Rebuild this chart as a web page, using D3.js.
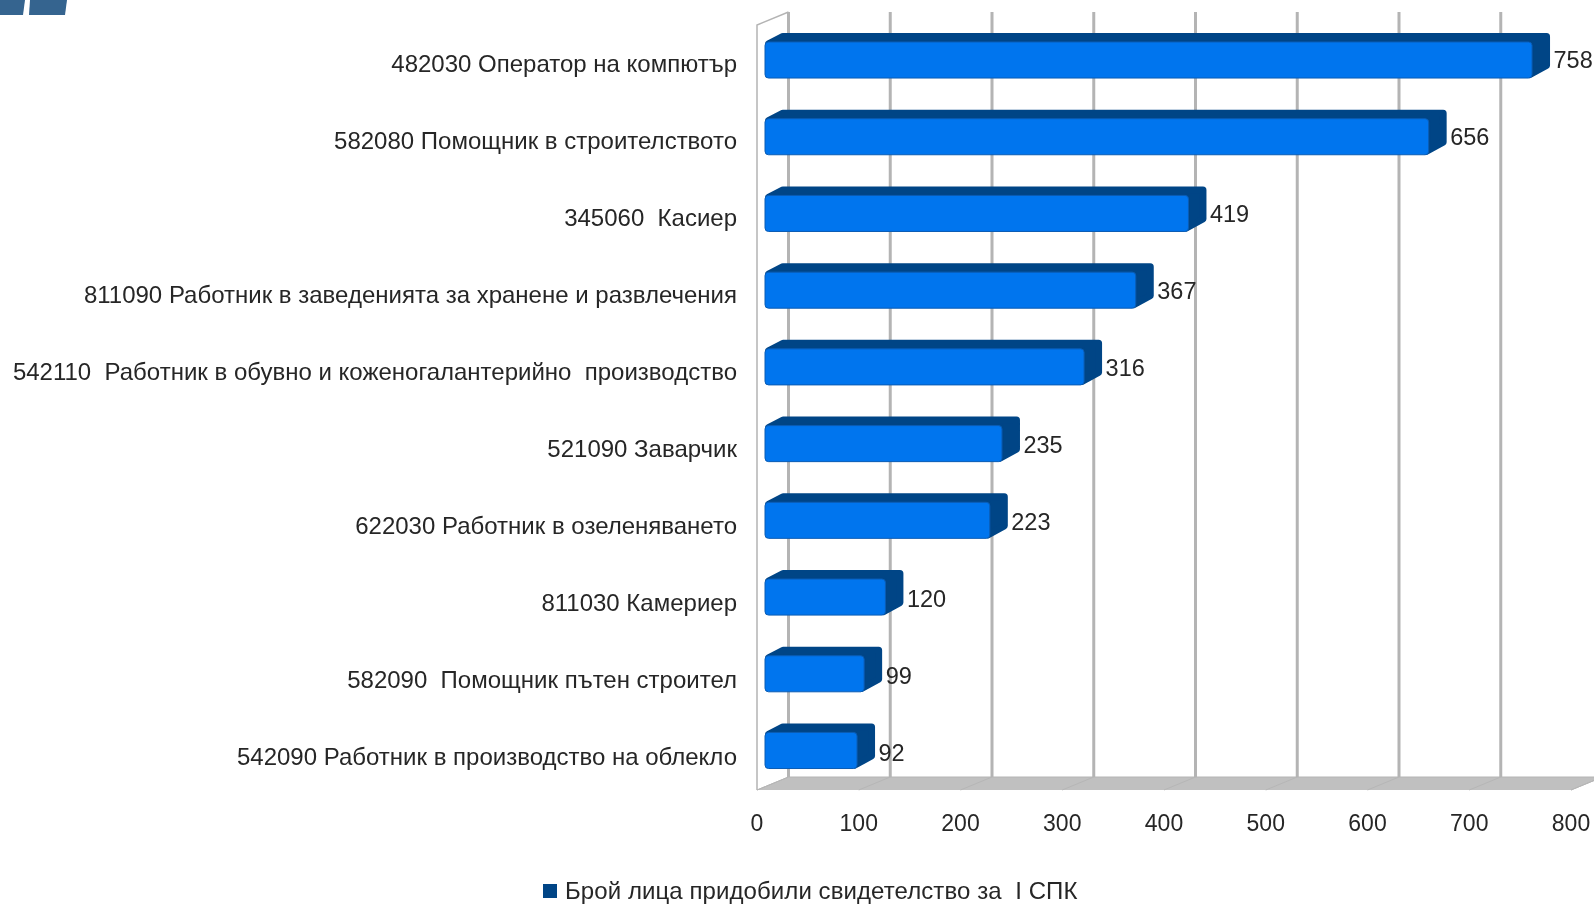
<!DOCTYPE html>
<html><head><meta charset="utf-8">
<script src="https://cdn.jsdelivr.net/npm/d3@7"></script>
<style>
html,body{margin:0;padding:0;background:#fff;overflow:hidden}
svg{display:block;filter:blur(0.6px)}
text{font-family:"Liberation Sans",Arial,sans-serif;white-space:pre;fill:#262626}
</style></head><body><svg id="c" width="1594" height="904"></svg>
<script>
const categories=["482030 Оператор на компютър","582080 Помощник в строителството","345060  Касиер","811090 Работник в заведенията за хранене и развлечения","542110  Работник в обувно и коженогалантерийно  производство","521090 Заварчик","622030 Работник в озеленяването","811030 Камериер","582090  Помощник пътен строител","542090 Работник в производство на облекло"];
const values=[758,656,419,367,316,235,223,120,99,92];
const xTicks=[0,100,200,300,400,500,600,700,800];
const seriesName="Брой лица придобили свидетелство за  I СПК";

const svg=d3.select("#c");
const x=d3.scaleLinear().domain([0,800]).range([757,1571]);
const xBar=d3.scaleLinear().domain([0,800]).range([763.8,1574.6]);
const y=d3.scaleBand().domain(categories).range([21.65,788.85]).paddingInner(0.53).paddingOuter(0.265);
const yLabel=d3.scaleBand().domain(categories).range([21.5,791]);
const wallDx=31.5,wallDy=-13,floorY=790,topY=25;
const barDx=18,barDy=-9,barInset=1.2;
const grey="#b4b4b4";

// logo fragment
svg.append("g").attr("fill","#35648f").selectAll("path")
 .data(["M0 0H25L23 15H0Z","M30 0H67L65 15H29Z"]).join("path").attr("d",d=>d);

// floor
const floor=svg.append("g");
floor.append("path").attr("fill","#c0c0c0").attr("stroke","#b4b4b4")
 .attr("d",d3.line()([[x(0),floorY],[x(0)+wallDx,floorY+wallDy],[x(800)+wallDx,floorY+wallDy],[x(800),floorY]]));
floor.selectAll("line").data(xTicks).join("line")
 .attr("x1",d=>x(d)).attr("x2",d=>x(d)+wallDx).attr("y1",floorY).attr("y2",floorY+wallDy)
 .attr("stroke","#b6b6b6").attr("stroke-width",1);

// wall gridlines
svg.append("g").selectAll("line").data(xTicks).join("line")
 .attr("x1",d=>x(d)+wallDx).attr("x2",d=>x(d)+wallDx)
 .attr("y1",topY+wallDy).attr("y2",floorY+wallDy)
 .attr("stroke",grey).attr("stroke-width",3);

// left wall
svg.append("path").attr("fill","none").attr("stroke",grey).attr("stroke-width",1.5)
 .attr("d",d3.line()([[x(0),floorY],[x(0),topY],[x(0)+wallDx,topY+wallDy]]));

// bars
const rows=categories.map((c,i)=>({c,v:values[i]}));
const bars=svg.append("g").selectAll("g").data(rows).join("g");
bars.append("path").attr("fill","#004586").attr("stroke","#004586").attr("stroke-width",7).attr("stroke-linejoin","round")
 .attr("d",d=>{
  const x0=xBar(0)+barInset,x1=xBar(d.v),t=y(d.c),b=t+y.bandwidth(),s=3.5;
  return d3.line()([[x0+s,t+2],[x0+barDx,t+barDy+s],[x1+barDx-s,t+barDy+s],[x1+barDx-s,b+barDy-s],[x1-2,b-s],[x1-2,t+2]])+"Z";
 });
bars.append("rect")
 .attr("x",xBar(0)+barInset).attr("y",d=>y(d.c))
 .attr("width",d=>xBar(d.v)-xBar(0)-barInset).attr("height",y.bandwidth())
 .attr("rx",3.5).attr("fill","#0075ee").attr("stroke","#0a5cb4").attr("stroke-width",1);

// category labels
svg.append("g").selectAll("text").data(rows).join("text")
 .attr("x",737).attr("y",d=>yLabel(d.c)+yLabel.bandwidth()/2+4).attr("dy","0.35em")
 .attr("text-anchor","end").attr("font-size",24).text(d=>d.c);

// value labels
svg.append("g").selectAll("text").data(rows).join("text")
 .attr("x",d=>xBar(d.v)+barDx+3.5).attr("y",d=>yLabel(d.c)+yLabel.bandwidth()/2).attr("dy","0.35em")
 .attr("font-size",23.5).text(d=>d.v);

// x axis
const axis=svg.append("g").attr("transform","translate(-0.5,815)")
 .call(d3.axisBottom(x).tickValues(xTicks).tickSize(0).tickPadding(0).tickFormat(d3.format("d")));
axis.select(".domain").remove();
axis.selectAll("text").attr("font-size",23).attr("fill","#262626").attr("font-family","Liberation Sans").attr("y",0).attr("dy","0.71em");

// legend
svg.append("rect").attr("x",543).attr("y",884).attr("width",14).attr("height",14).attr("fill","#004586");
svg.append("text").attr("x",565).attr("y",891).attr("dy","0.35em").attr("font-size",24).attr("letter-spacing",0.08).text(seriesName);
</script></body></html>
